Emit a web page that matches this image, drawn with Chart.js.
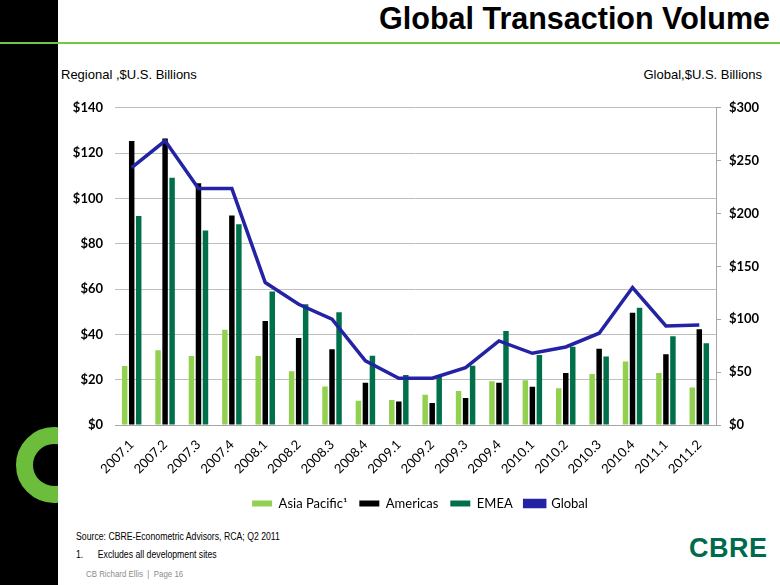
<!DOCTYPE html>
<html>
<head>
<meta charset="utf-8">
<script src="https://cdn.jsdelivr.net/npm/chart.js@4.4.0/dist/chart.umd.min.js"></script>
<style>
  html, body { margin: 0; padding: 0; background: #fff; }
  body { width: 780px; height: 585px; position: relative; overflow: hidden; font-family: "Liberation Sans", Arial, sans-serif; }
  #sidebar { position: absolute; left: 0; top: 0; width: 58px; height: 585px; background: #000; overflow: hidden; }
  #ring { position: absolute; left: 16px; top: 427px; width: 76px; height: 76px; border-radius: 50%; box-sizing: border-box; border: 17px solid #6cbd3b; }
  #rule { position: absolute; left: 0; top: 42px; width: 780px; height: 2px; background: #76c442; }
  #title { position: absolute; right: 10px; top: 1px; font-weight: bold; font-size: 30.5px; color: #000; }
  .axisname { position: absolute; top: 67px; font-size: 13px; color: #000; }
  #wrap { position: absolute; left: 60px; top: 88px; width: 720px; height: 432px; }
  .foot { position: absolute; left: 76px; font-size: 10px; color: #000; white-space: nowrap; transform: scaleX(0.87); transform-origin: left center; }
  #page { position: absolute; left: 86px; top: 568px; font-size: 9.5px; color: #8c8c8c; white-space: nowrap; transform: scaleX(0.83); transform-origin: left center; }
  #logo { position: absolute; left: 689px; top: 533px; font-size: 27px; font-weight: bold; color: #006a4d; letter-spacing: 0.5px; }
</style>
</head>
<body>
<div id="sidebar"><div id="ring"></div></div>
<div id="rule"></div>
<div id="title">Global Transaction Volume</div>
<div class="axisname" style="left:61px">Regional ,$U.S. Billions</div>
<div class="axisname" style="right:18px">Global,$U.S. Billions</div>
<div id="wrap"><canvas id="chart" width="720" height="432"></canvas></div>
<div class="foot" style="top:531px">Source: CBRE-Econometric Advisors, RCA; Q2 2011</div>
<div class="foot" style="top:549px">1.&nbsp;&nbsp;&nbsp;&nbsp;&nbsp;&nbsp;Excludes all development sites</div>
<div id="page">CB Richard Ellis&nbsp; |&nbsp; Page 16</div>
<div id="logo">CBRE</div>

<script>
// Kvartaler og verdier lest av bildet
const quarters = ['2007.1','2007.2','2007.3','2007.4','2008.1','2008.2','2008.3','2008.4',
  '2009.1','2009.2','2009.3','2009.4','2010.1','2010.2','2010.3','2010.4','2011.1','2011.2'];
const asiaPacific = [26, 33, 30.5, 42, 30.5, 23.7, 17, 10.7, 11, 13.3, 15, 19.3, 19.7, 16.2, 22.5, 28, 23, 16.5];
const americas = [125.4, 126.5, 106.7, 92.5, 45.9, 38.4, 33.4, 18.7, 10.4, 9.7, 11.9, 18.6, 16.9, 23, 33.7, 49.5, 31.2, 42.3];
const emea = [92.2, 109.1, 85.8, 88.6, 58.9, 53.3, 49.8, 30.6, 22.1, 21.2, 26.2, 41.5, 30.9, 34.5, 30.2, 51.8, 39.2, 36.1];
const global = [243.5, 268.8, 223.6, 223.6, 134.7, 114.2, 100, 60.6, 44.2, 44.2, 54.3, 79.5, 67.8, 73.8, 86.8, 130, 93.7, 94.6];

const tickFont = { family: 'Lato, "Open Sans", sans-serif', size: 13 };

new Chart(document.getElementById('chart'), {
  data: {
    labels: quarters,
    datasets: [
      { type: 'bar', label: 'Asia Pacific\u00B9', data: asiaPacific, backgroundColor: '#92d050', yAxisID: 'y', order: 1 },
      { type: 'bar', label: 'Americas', data: americas, backgroundColor: '#000000', yAxisID: 'y', order: 1 },
      { type: 'bar', label: 'EMEA', data: emea, backgroundColor: '#00704a', yAxisID: 'y', order: 1 },
      { type: 'line', label: 'Global', data: global, borderColor: '#2323a3', backgroundColor: '#2323a3',
        borderWidth: 3.5, pointRadius: 0, tension: 0, yAxisID: 'y1', order: 0 }
    ]
  },
  options: {
    responsive: false,
    animation: false,
    layout: { padding: { top: 5, left: 0, right: 0, bottom: 0 } },
    datasets: { bar: { categoryPercentage: 0.63, barPercentage: 0.78 } },
    plugins: {
      tooltip: { enabled: false },
      legend: {
        position: 'bottom',
        labels: {
          boxWidth: 20, boxHeight: 6, padding: 12, color: '#000',
          font: { family: tickFont.family, size: 13 },
          sort: (a, b) => a.datasetIndex - b.datasetIndex
        }
      }
    },
    scales: {
      x: {
        grid: { display: false },
        border: { display: true, color: '#a6a6a6' },
        ticks: { minRotation: 45, maxRotation: 45, color: '#000', font: tickFont, padding: 4 },
        afterFit: s => { s.height = 60; }
      },
      y: {
        position: 'left', min: 0, max: 140,
        grid: { color: '#bfbfbf', drawTicks: false },
        border: { display: false },
        ticks: { stepSize: 20, color: '#000', font: { ...tickFont, weight: 'bold' }, padding: 12,
          callback: v => '$' + v },
        afterFit: s => { s.width = 55; }
      },
      y1: {
        position: 'right', min: 0, max: 300,
        grid: { drawOnChartArea: false, color: '#a6a6a6', tickLength: 5 },
        border: { display: true, color: '#a6a6a6' },
        ticks: { stepSize: 50, color: '#000', font: { ...tickFont, weight: 'bold' }, padding: 8,
          callback: v => '$' + v },
        afterFit: s => { s.width = 64; }
      }
    }
  }
});
</script>
</body>
</html>
